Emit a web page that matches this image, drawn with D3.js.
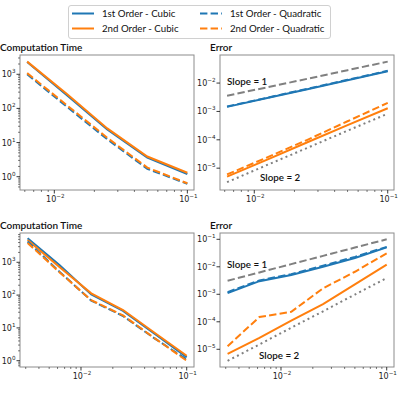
<!DOCTYPE html>
<html><head><meta charset="utf-8">
<script src="https://cdn.jsdelivr.net/npm/d3@7"></script>
<style>body{margin:0;background:#fff}svg{display:block}</style>
</head><body>
<script>
// ---------- DATA ----------
const hTop = [1/160, 1/80, 1/40, 1/20, 1/10];
const hBot = [1/320, 1/160, 1/80, 1/40, 1/20, 1/10];

const seriesNames = ["1st Order - Cubic", "2nd Order - Cubic", "1st Order - Quadratic", "2nd Order - Quadratic"];
const seriesColors = ["#1f77b4", "#ff7f0e", "#1f77b4", "#ff7f0e"];
const seriesDashed = [false, false, true, true];

// top row: computation time
const timeTop1Cubic = [2300, 240, 24, 3.6, 1.2];
const timeTop2Cubic = [2350, 260, 26, 3.9, 1.3];
const timeTop1Quad = [1000, 110, 12.5, 1.7, 0.62];
const timeTop2Quad = [1080, 122, 13.8, 1.85, 0.64];
// top row: error
const errTop1Cubic = [1.45e-3, 3.0e-3, 6.1e-3, 1.25e-2, 2.6e-2];
const errTop2Cubic = [5.0e-6, 2.0e-5, 8.2e-5, 3.3e-4, 1.3e-3];
const errTop1Quad = [1.5e-3, 3.05e-3, 6.3e-3, 1.3e-2, 2.7e-2];
const errTop2Quad = [6.0e-6, 2.4e-5, 1.0e-4, 4.5e-4, 2.0e-3];
const refTopSlope1 = [3.6e-3, 7.1e-3, 1.42e-2, 2.85e-2, 5.7e-2];
const refTopSlope2 = [3.2e-6, 1.3e-5, 5.2e-5, 2.1e-4, 8.3e-4];

// bottom row: computation time
const timeBot1Cubic = [5400, 830, 105, 33, 6.5, 1.27];
const timeBot2Cubic = [4800, 720, 113, 35, 7.0, 1.42];
const timeBot1Quad = [4300, 520, 68, 23, 4.7, 1.1];
const timeBot2Quad = [3900, 500, 70, 24, 4.8, 1.0];
// bottom row: error
const errBot1Cubic = [1.1e-3, 3.0e-3, 5.0e-3, 1.0e-2, 2.1e-2, 5.1e-2];
const errBot2Cubic = [6.8e-6, 2.6e-5, 1.1e-4, 4.4e-4, 2.3e-3, 1.2e-2];
const errBot1Quad = [1.2e-3, 3.2e-3, 5.4e-3, 1.1e-2, 2.3e-2, 5.3e-2];
const errBot2Quad = [1.3e-5, 1.5e-4, 2.3e-4, 1.65e-3, 6.6e-3, 3.1e-2];
const refBotSlope1 = [3.1e-3, 6.25e-3, 1.25e-2, 2.5e-2, 5.0e-2, 1.0e-1];
const refBotSlope2 = [3.8e-6, 1.5e-5, 6.1e-5, 2.4e-4, 9.8e-4, 3.9e-3];

const titles = ["Computation Time", "Error"];
const slopeLabels = ["Slope = 1", "Slope = 2"];

// ---------- LAYOUT ----------
const W = 399, H = 399;
const svg = d3.select("body").append("svg").attr("width", W).attr("height", H);

const panels = [
  {x0:20, x1:194, y0:55, y1:190, xd:[-2.258,-0.950], yd:[-0.39,3.565], yMinor:true,
   title:titles[0], h:hTop, series:[timeTop1Cubic,timeTop2Cubic,timeTop1Quad,timeTop2Quad]},
  {x0:220, x1:394, y0:55, y1:190, xd:[-2.257,-0.953], yd:[-5.77,-1.01], yMinor:false,
   title:titles[1], h:hTop, series:[errTop1Cubic,errTop2Cubic,errTop1Quad,errTop2Quad],
   ref1:refTopSlope1, ref2:refTopSlope2, lab1:[227,85], lab2:[260,181]},
  {x0:20, x1:194, y0:233, y1:367, xd:[-2.577,-0.931], yd:[-0.192,3.893], yMinor:true,
   title:titles[0], h:hBot, series:[timeBot1Cubic,timeBot2Cubic,timeBot1Quad,timeBot2Quad]},
  {x0:220, x1:394, y0:233, y1:367, xd:[-2.577,-0.931], yd:[-5.644,-0.771], yMinor:false,
   title:titles[1], h:hBot, series:[errBot1Cubic,errBot2Cubic,errBot1Quad,errBot2Quad],
   ref1:refBotSlope1, ref2:refBotSlope2, lab1:[227,268], lab2:[259,359]}
];

const tickFont = "DejaVu Sans";
const textFont = "Lato, 'Noto Sans', sans-serif";

function supLabel(sel, exp){
  sel.append("tspan").text("10");
  sel.append("tspan").attr("dy", -4).attr("font-size", 5.6).text(exp < 0 ? "\u2212" + (-exp) : String(exp));
}

panels.forEach(p => {
  const x = d3.scaleLog().domain([Math.pow(10,p.xd[0]), Math.pow(10,p.xd[1])]).range([p.x0, p.x1]);
  const y = d3.scaleLog().domain([Math.pow(10,p.yd[0]), Math.pow(10,p.yd[1])]).range([p.y1, p.y0]);
  const g = svg.append("g");

  const cid = "clip" + p.x0 + "_" + p.y0;
  svg.append("clipPath").attr("id", cid).append("rect")
    .attr("x", p.x0).attr("y", p.y0).attr("width", p.x1-p.x0).attr("height", p.y1-p.y0);
  const plot = g.append("g").attr("clip-path", `url(#${cid})`);

  const line = d3.line().x((d,i) => x(p.h[i])).y(d => y(d));

  if (p.ref1) {
    plot.append("path").datum(p.ref1).attr("d", line).attr("fill","none")
      .attr("stroke","#808080").attr("stroke-width",2).attr("stroke-dasharray","7.4,3.2");
    plot.append("path").datum(p.ref2).attr("d", line).attr("fill","none")
      .attr("stroke","#808080").attr("stroke-width",2).attr("stroke-dasharray","2,3.3");
  }
  p.series.forEach((s, k) => {
    plot.append("path").datum(s).attr("d", line).attr("fill","none")
      .attr("stroke", seriesColors[k]).attr("stroke-width", 2)
      .attr("stroke-dasharray", seriesDashed[k] ? "7.4,3.2" : null);
  });
  if (p.ref1) {
    g.append("text").attr("x", p.lab1[0]).attr("y", p.lab1[1]).attr("font-family", textFont)
      .attr("font-size", 9.8).attr("font-weight", 600).attr("fill","#111").text(slopeLabels[0]);
    g.append("text").attr("x", p.lab2[0]).attr("y", p.lab2[1]).attr("font-family", textFont)
      .attr("font-size", 9.8).attr("font-weight", 600).attr("fill","#111").text(slopeLabels[1]);
  }

  g.append("rect").attr("x", p.x0).attr("y", p.y0).attr("width", p.x1-p.x0).attr("height", p.y1-p.y0)
    .attr("fill","none").attr("stroke","#8c8c8c").attr("stroke-width",1);

  const xMin = Math.pow(10,p.xd[0]), xMax = Math.pow(10,p.xd[1]);
  for (let e = Math.floor(p.xd[0]); e <= Math.ceil(p.xd[1]); e++) {
    for (let m = 1; m <= 9; m++) {
      const v = m * Math.pow(10, e);
      if (v < xMin || v > xMax) continue;
      const px = x(v);
      const len = m === 1 ? 3.5 : 2;
      g.append("line").attr("x1", px).attr("x2", px).attr("y1", p.y1).attr("y2", p.y1 + len)
        .attr("stroke","#222").attr("stroke-width", m===1 ? 0.9 : 0.6);
      if (m === 1) {
        const t = g.append("text").attr("x", px + 1).attr("y", p.y1 + 12).attr("text-anchor","middle")
          .attr("font-family", tickFont).attr("font-size", 8).attr("fill","#222");
        supLabel(t, e);
      }
    }
  }
  const yMin = Math.pow(10,p.yd[0]), yMax = Math.pow(10,p.yd[1]);
  for (let e = Math.floor(p.yd[0]); e <= Math.ceil(p.yd[1]); e++) {
    for (let m = 1; m <= 9; m++) {
      if (m > 1 && !p.yMinor) continue;
      const v = m * Math.pow(10, e);
      if (v < yMin || v > yMax) continue;
      const py = y(v);
      const len = m === 1 ? 3.5 : 2;
      g.append("line").attr("x1", p.x0 - len).attr("x2", p.x0).attr("y1", py).attr("y2", py)
        .attr("stroke","#222").attr("stroke-width", m===1 ? 0.9 : 0.6);
      if (m === 1) {
        const t = g.append("text").attr("x", p.x0 - 4.5).attr("y", py + 3).attr("text-anchor","end")
          .attr("font-family", tickFont).attr("font-size", 8).attr("fill","#222");
        supLabel(t, e);
      }
    }
  }

  g.append("text").attr("x", p.x0 === 20 ? 0 : 210).attr("y", p.y0 - 4)
    .attr("font-family", textFont).attr("font-size", 10).attr("font-weight", 600)
    .attr("fill","#111").text(p.title);
});

// ---------- LEGEND ----------
const leg = svg.append("g");
leg.append("rect").attr("x", 68.5).attr("y", 5.5).attr("width", 262).attr("height", 33).attr("rx", 2.5)
  .attr("fill","#fff").attr("stroke","#d0d0d0").attr("stroke-width",1);
const legPos = [[72, 13.5], [72, 28.5], [200, 13.5], [200, 28.5]];
seriesNames.forEach((name, k) => {
  const [lx, ly] = legPos[k];
  leg.append("line").attr("x1", lx).attr("x2", lx + 22).attr("y1", ly).attr("y2", ly)
    .attr("stroke", seriesColors[k]).attr("stroke-width", 2)
    .attr("stroke-dasharray", seriesDashed[k] ? "7.4,3.2" : null);
  leg.append("text").attr("x", lx + 30).attr("y", ly + 3.5).attr("font-family", textFont)
    .attr("font-size", 9.7).attr("fill","#111").text(name);
});
</script>
</body></html>
